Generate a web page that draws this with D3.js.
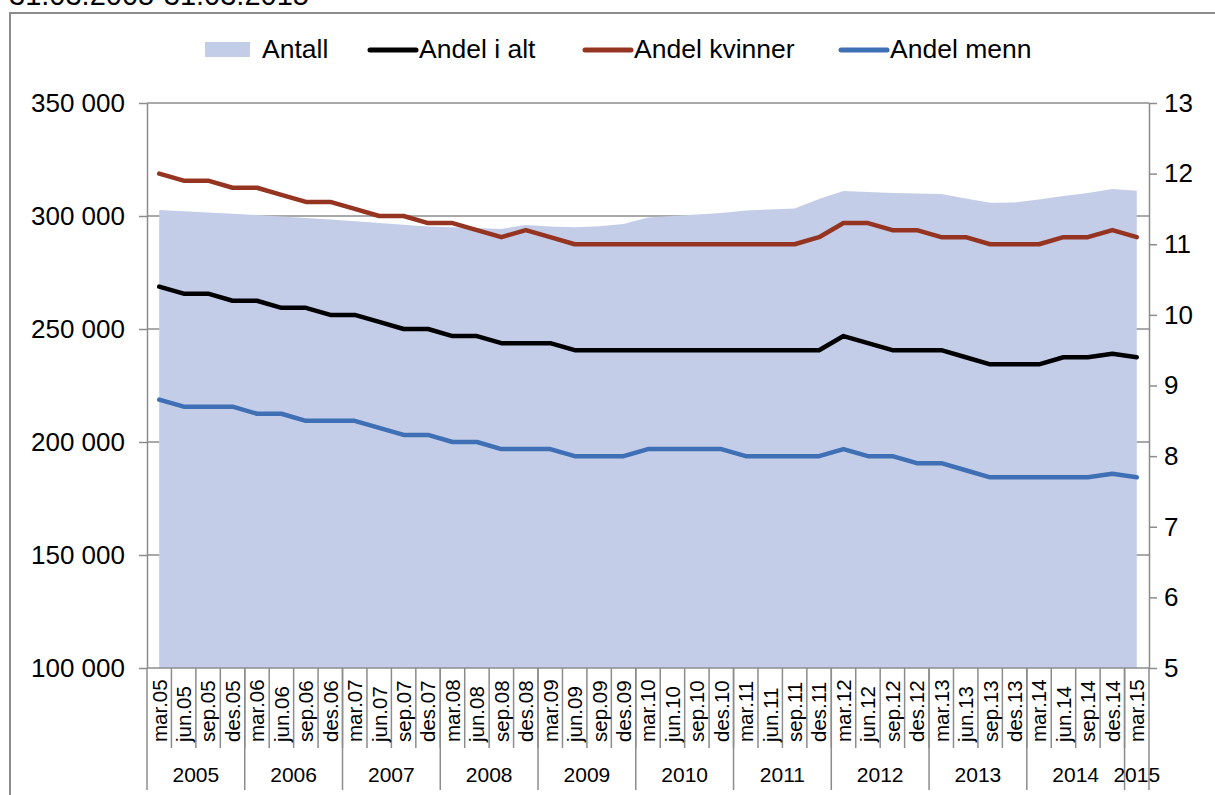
<!DOCTYPE html>
<html>
<head>
<meta charset="utf-8">
<script src="https://cdn.jsdelivr.net/npm/d3@7"></script>
<style>
  body { margin: 0; background: #fff; }
  text { font-family: "Liberation Sans", Arial, sans-serif; fill: #000; }
</style>
</head>
<body>
<div></div>
<script>
const categories = ["mar.05","jun.05","sep.05","des.05","mar.06","jun.06","sep.06","des.06",
  "mar.07","jun.07","sep.07","des.07","mar.08","jun.08","sep.08","des.08",
  "mar.09","jun.09","sep.09","des.09","mar.10","jun.10","sep.10","des.10",
  "mar.11","jun.11","sep.11","des.11","mar.12","jun.12","sep.12","des.12",
  "mar.13","jun.13","sep.13","des.13","mar.14","jun.14","sep.14","des.14","mar.15"];

const years = ["2005","2006","2007","2008","2009","2010","2011","2012","2013","2014","2015"];

const antall = [302700, 302100, 301500, 301000, 300450, 299800, 299100, 298400, 297700, 296900,
  296100, 295300, 295000, 294700, 294300, 296000, 295400, 295000, 295500, 296500,
  299300, 300000, 300700, 301300, 302400, 302900, 303300, 307500, 311100, 310600,
  310200, 310000, 309700, 307700, 305900, 306000, 307300, 308900, 310200, 312000, 311200];

const andelIAlt = [10.4, 10.3, 10.3, 10.2, 10.2, 10.1, 10.1, 10.0, 10.0, 9.9,
  9.8, 9.8, 9.7, 9.7, 9.6, 9.6, 9.6, 9.5, 9.5, 9.5,
  9.5, 9.5, 9.5, 9.5, 9.5, 9.5, 9.5, 9.5, 9.7, 9.6,
  9.5, 9.5, 9.5, 9.4, 9.3, 9.3, 9.3, 9.4, 9.4, 9.45, 9.4];

const andelKvinner = [12.0, 11.9, 11.9, 11.8, 11.8, 11.7, 11.6, 11.6, 11.5, 11.4,
  11.4, 11.3, 11.3, 11.2, 11.1, 11.2, 11.1, 11.0, 11.0, 11.0,
  11.0, 11.0, 11.0, 11.0, 11.0, 11.0, 11.0, 11.1, 11.3, 11.3,
  11.2, 11.2, 11.1, 11.1, 11.0, 11.0, 11.0, 11.1, 11.1, 11.2, 11.1];

const andelMenn = [8.8, 8.7, 8.7, 8.7, 8.6, 8.6, 8.5, 8.5, 8.5, 8.4,
  8.3, 8.3, 8.2, 8.2, 8.1, 8.1, 8.1, 8.0, 8.0, 8.0,
  8.1, 8.1, 8.1, 8.1, 8.0, 8.0, 8.0, 8.0, 8.1, 8.0,
  8.0, 7.9, 7.9, 7.8, 7.7, 7.7, 7.7, 7.7, 7.7, 7.75, 7.7];

const leftTicks = [100000, 150000, 200000, 250000, 300000, 350000];
const rightTicks = [5, 6, 7, 8, 9, 10, 11, 12, 13];

const w = 1215;
const h = 795;
const pLeft = 147, pRight = 1149, pTop = 103, pBottom = 668;
const gray = "#8c8c8c";

const svg = d3.select("div")
              .append("svg")
              .attr("width", w)
              .attr("height", h);

// Scales
const xScale = d3.scaleBand()
  .domain(categories)
  .range([pLeft, pRight])
  .padding(0);
const xMid = (c) => xScale(c) + xScale.bandwidth() / 2;

const yLeft = d3.scaleLinear().domain([100000, 350000]).range([pBottom, pTop]);
const yRight = d3.scaleLinear().domain([5, 13]).range([pBottom, pTop]);

// Outer frame and the title that is cut off at the top edge
svg.append("rect")
   .attr("x", 10).attr("y", 13)
   .attr("width", w).attr("height", h)
   .attr("fill", "none")
   .attr("stroke", gray)
   .attr("stroke-width", 2);

svg.append("text")
   .attr("x", 9)
   .attr("y", 5)
   .style("font-size", "29px")
   .text("31.03.2005-31.03.2015");

// Gridlines
svg.append("g")
   .selectAll("line")
   .data(leftTicks.filter(d => d > 100000))
   .enter()
   .append("line")
   .attr("x1", pLeft).attr("x2", pRight)
   .attr("y1", d => yLeft(d)).attr("y2", d => yLeft(d))
   .attr("stroke", gray)
   .attr("stroke-width", 1.5);

// Area
const rows = categories.map((c, i) => ({cat: c, antall: antall[i], alt: andelIAlt[i], kv: andelKvinner[i], menn: andelMenn[i]}));

svg.append("path")
   .datum(rows)
   .attr("fill", "#c3cde8")
   .attr("d", d3.area()
     .x(d => xMid(d.cat))
     .y0(yLeft(100000))
     .y1(d => yLeft(d.antall)));

// Lines
function drawLine(key, color) {
  svg.append("path")
     .datum(rows)
     .attr("fill", "none")
     .attr("stroke", color)
     .attr("stroke-width", 4.5)
     .attr("stroke-linejoin", "round")
     .attr("stroke-linecap", "round")
     .attr("d", d3.line()
       .x(d => xMid(d.cat))
       .y(d => yRight(d[key])));
}
drawLine("kv", "#953420");
drawLine("alt", "#000000");
drawLine("menn", "#3f6fb4");

// Axes
const fmt = (d) => d3.format(",")(d).replace(",", " ");

const leftAxis = svg.append("g")
   .attr("transform", "translate(" + pLeft + ",0)")
   .call(d3.axisLeft(yLeft).tickValues(leftTicks).tickFormat(fmt).tickSize(8).tickPadding(14).tickSizeOuter(0));

const rightAxis = svg.append("g")
   .attr("transform", "translate(" + pRight + ",0)")
   .call(d3.axisRight(yRight).tickValues(rightTicks).tickSize(8).tickPadding(7).tickSizeOuter(0));

[leftAxis, rightAxis].forEach(a => {
  a.selectAll("path, line").attr("stroke", gray).attr("stroke-width", 1.5);
  a.selectAll("text").style("font-size", "26px").attr("fill", "#000");
});

// Category axis
svg.append("line")
   .attr("x1", pLeft).attr("x2", pRight)
   .attr("y1", pBottom).attr("y2", pBottom)
   .attr("stroke", gray).attr("stroke-width", 1.5);

svg.append("g")
   .selectAll("line")
   .data(categories.slice(1))
   .enter()
   .append("line")
   .attr("x1", d => xScale(d)).attr("x2", d => xScale(d))
   .attr("y1", pBottom).attr("y2", 748)
   .attr("stroke", gray).attr("stroke-width", 1.5);

svg.append("g")
   .selectAll("text")
   .data(categories)
   .enter()
   .append("text")
   .attr("transform", d => "translate(" + xMid(d) + ",742) rotate(-90)")
   .attr("dy", "0.36em")
   .style("font-size", "20.5px")
   .text(d => d);

// Year groups
const yearStart = (i) => xScale(categories[i * 4]);
const yearEnd = (i) => (i * 4 + 4 < categories.length) ? xScale(categories[i * 4 + 4]) : pRight;

svg.append("g")
   .selectAll("line")
   .data(years.concat(["end"]))
   .enter()
   .append("line")
   .attr("x1", (d, i) => i < years.length ? yearStart(i) : pRight)
   .attr("x2", (d, i) => i < years.length ? yearStart(i) : pRight)
   .attr("y1", pBottom).attr("y2", 790)
   .attr("stroke", gray).attr("stroke-width", 1.5);

svg.append("g")
   .selectAll("text")
   .data(years)
   .enter()
   .append("text")
   .attr("x", (d, i) => (yearStart(i) + yearEnd(i)) / 2)
   .attr("y", 782)
   .attr("text-anchor", "middle")
   .style("font-size", "21px")
   .text(d => d);

// Legend
function legend(x, type, color, text) {
  if (type == "area") {
    svg.append("rect")
       .attr("x", x).attr("y", 42)
       .attr("width", 45).attr("height", 15)
       .attr("fill", color);
  } else {
    svg.append("line")
       .attr("x1", x + 2).attr("x2", x + 48)
       .attr("y1", 50).attr("y2", 50)
       .attr("stroke", color)
       .attr("stroke-width", 5)
       .attr("stroke-linecap", "round");
  }
  svg.append("text")
     .attr("x", type == "area" ? x + 57 : x + 51)
     .attr("y", 58)
     .style("font-size", "26.5px")
     .text(text);
}

legend(205, "area", "#c3cde8", "Antall");
legend(368, "line", "#000000", "Andel i alt");
legend(583, "line", "#953420", "Andel kvinner");
legend(839, "line", "#3f6fb4", "Andel menn");
</script>
</body>
</html>
